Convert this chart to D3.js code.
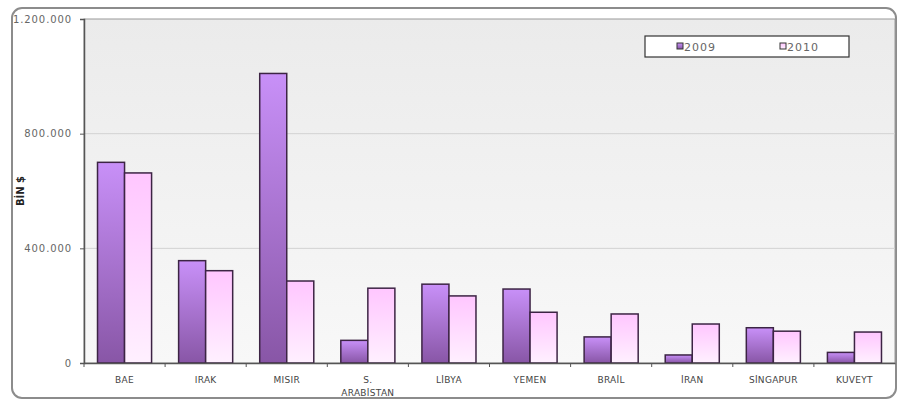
<!DOCTYPE html>
<html><head><meta charset="utf-8">
<script src="https://cdn.jsdelivr.net/npm/d3@7/dist/d3.min.js"></script>
<style>body{margin:0;background:#fff}svg{display:block}</style>
</head><body>
<svg id="c" width="899" height="403"></svg>
<script>
const categories = ["BAE","IRAK","MISIR","S.|ARABİSTAN","LİBYA","YEMEN","BRAİL","İRAN","SİNGAPUR","KUVEYT"];
const series2009 = [700000,357000,1010000,79000,275000,258000,91000,28000,123000,37000];
const series2010 = [663000,322000,286000,261000,234000,177000,171000,136000,111000,108000];
const seriesNames = ["2009","2010"];
const yTicks = [0,400000,800000,1200000];
const yTickLabels = ["0","400.000","800.000","1.200.000"];
const yTitle = "BİN $";

const FONT = "'DejaVu Sans', Verdana, sans-serif";
const svg = d3.select("#c");
const L=84, R=895, T=19, B=363;
const defs = svg.append("defs");
const g1 = defs.append("linearGradient").attr("id","g2009").attr("x1",0).attr("y1",0).attr("x2",0).attr("y2",1);
g1.append("stop").attr("offset","0%").attr("stop-color","#c890f8");
g1.append("stop").attr("offset","100%").attr("stop-color","#8856a6");
const g2 = defs.append("linearGradient").attr("id","g2010").attr("x1",0).attr("y1",0).attr("x2",0).attr("y2",1);
g2.append("stop").attr("offset","0%").attr("stop-color","#ffc6ff");
g2.append("stop").attr("offset","100%").attr("stop-color","#fff0ff");
const gb = defs.append("linearGradient").attr("id","gbg").attr("x1",0).attr("y1",0).attr("x2",0).attr("y2",1);
gb.append("stop").attr("offset","0%").attr("stop-color","#ebebeb");
gb.append("stop").attr("offset","100%").attr("stop-color","#f8f8f8");

// outer frame
svg.append("rect").attr("x",12).attr("y",8).attr("width",884).attr("height",390).attr("rx",10)
  .attr("fill","#fff").attr("stroke","#8c8c8c").attr("stroke-width",2);

const x = d3.scaleBand().domain(categories).range([L,R]);
const xs = d3.scaleBand().domain(seriesNames).range([0,x.bandwidth()]).paddingOuter(0.5).paddingInner(0);
const y = d3.scaleLinear().domain([0,1200000]).range([B,T]);

svg.append("rect").attr("x",L).attr("y",T).attr("width",R-L).attr("height",B-T).attr("fill","url(#gbg)")
  .attr("stroke","#9a9a9a").attr("stroke-width",1);

// grid
svg.append("g").selectAll("line").data(yTicks.filter(d=>d>0&&d<1200000)).join("line")
  .attr("x1",L).attr("x2",R).attr("y1",d=>y(d)).attr("y2",d=>y(d)).attr("stroke","#d2d2d2");

// bars
const data = categories.map((c,i)=>({c, v:[series2009[i],series2010[i]]}));
const grp = svg.append("g").selectAll("g").data(data).join("g").attr("transform",d=>`translate(${x(d.c)},0)`);
grp.selectAll("rect").data(d=>d.v.map((v,j)=>({k:seriesNames[j],v}))).join("rect")
  .attr("x",d=>xs(d.k)).attr("width",xs.bandwidth()).attr("y",d=>y(d.v)).attr("height",d=>B-y(d.v))
  .attr("fill",d=>d.k==="2009"?"url(#g2009)":"url(#g2010)")
  .attr("stroke","#3c2444").attr("stroke-width",1.5);

// y axis
const ya = svg.append("g").attr("transform",`translate(${L},0)`)
  .call(d3.axisLeft(y).tickValues(yTicks).tickFormat((d,i)=>yTickLabels[i]).tickSize(4).tickPadding(8));
ya.select(".domain").attr("stroke","#555").attr("stroke-width",1.5);
ya.selectAll(".tick line").attr("stroke","#555");
ya.selectAll("text").attr("fill","#666").style("font-family",FONT).style("font-size","10px").style("letter-spacing","0.9px");

// x axis
const xa = svg.append("g").attr("transform",`translate(0,${B})`)
  .call(d3.axisBottom(x).tickSize(0).tickFormat(""));
xa.select(".domain").attr("stroke","#555").attr("stroke-width",1.5);
svg.append("g").selectAll("line").data(categories).join("line")
  .attr("x1",d=>x(d)).attr("x2",d=>x(d)).attr("y1",B).attr("y2",B+4).attr("stroke","#555");
const lbl = svg.append("g").selectAll("text").data(categories).join("text")
  .attr("x",d=>x(d)+x.bandwidth()/2).attr("y",B+20).attr("text-anchor","middle")
  .attr("fill","#444").style("font-family",FONT).style("font-size","9px").style("letter-spacing","0.3px");
lbl.each(function(d){
  const parts=d.split("|"); const t=d3.select(this);
  parts.forEach((p,i)=>t.append("tspan").attr("x",x(d)+x.bandwidth()/2).attr("dy",i?13:0).text(p));
});

// y title
svg.append("text").attr("transform","translate(24,191) rotate(-90)").attr("text-anchor","middle")
  .attr("fill","#222").style("font-family",FONT).style("font-size","10px").style("font-weight","bold").text(yTitle);

// legend
const lg = svg.append("g");
lg.append("rect").attr("x",645).attr("y",36).attr("width",204).attr("height",21).attr("fill","#fff").attr("stroke","#333").attr("stroke-width",1.2);
const lx=[677,780];
seriesNames.forEach((s,i)=>{
  lg.append("rect").attr("x",lx[i]).attr("y",43).attr("width",6).attr("height",6)
    .attr("fill",i?"url(#g2010)":"url(#g2009)").attr("stroke","#333").attr("stroke-width",1);
  lg.append("text").attr("x",lx[i]+7).attr("y",51).attr("fill","#666")
    .style("font-family",FONT).style("font-size","11px").style("letter-spacing","1px").text(s);
});
</script>
</body></html>
